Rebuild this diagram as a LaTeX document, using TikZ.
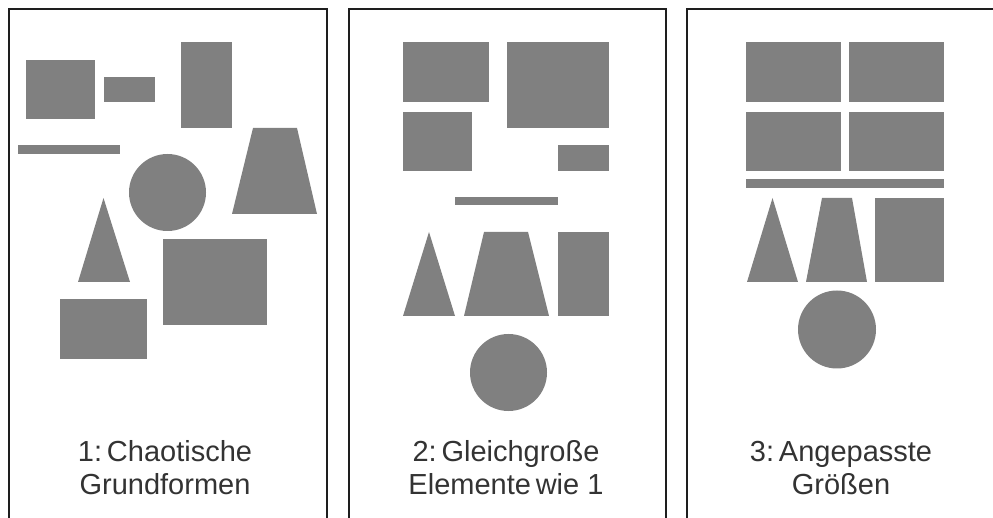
\documentclass[tikz,border=0pt]{standalone}
\usepackage{fontspec}
\setmainfont{Liberation Sans}
\definecolor{shapegray}{HTML}{808080}
\definecolor{framec}{HTML}{1E1E1E}
\definecolor{textc}{HTML}{333333}
\begin{document}
\begin{tikzpicture}[x=1pt,y=-1pt,
  shp/.style={fill=shapegray,draw=none},
  frm/.style={draw=framec,line width=2pt},
  lbl/.style={text=textc,font=\fontsize{29}{33}\selectfont,align=center,inner sep=0pt}]
\useasboundingbox (0,0) rectangle (993,518);
\clip (0,0) rectangle (993,518);
\fill[white] (0,0) rectangle (993,518);
% frames
\draw[frm] (9,530) -- (9,9) -- (327,9) -- (327,530);
\draw[frm] (349,530) -- (349,9) -- (666,9) -- (666,530);
\draw[frm] (687,530) -- (687,9) -- (1000,9);
% panel 1
\fill[shp] (26,60) rectangle (95,119);
\fill[shp] (104,77) rectangle (155,102);
\fill[shp] (181,42) rectangle (232,128);
\fill[shp] (18,145) rectangle (120,154);
\fill[shp] (167.5,192.5) circle (38.5);
\fill[shp] (253,128) -- (297,128) -- (317,214) -- (232,214) -- cycle;
\fill[shp] (103.5,198) -- (130,282) -- (78,282) -- cycle;
\fill[shp] (163,239) rectangle (267,325);
\fill[shp] (60,299) rectangle (147,359);
\node[lbl] (t1) at (165,468) {1:\,Chaotische\\Grundformen};
% panel 2
\fill[shp] (403,42) rectangle (489,102);
\fill[shp] (507,42) rectangle (609,128);
\fill[shp] (403,112) rectangle (472,171);
\fill[shp] (558,145) rectangle (609,171);
\fill[shp] (455,197) rectangle (558,205);
\fill[shp] (429,232) -- (455,316) -- (403,316) -- cycle;
\fill[shp] (484,232) -- (528,232) -- (549,316) -- (464,316) -- cycle;
\fill[shp] (558,232) rectangle (609,316);
\fill[shp] (508.5,372.5) circle (38.5);
\node[lbl] (t2) at (506,468) {2:\,Gleichgroße\\Elemente\,wie 1};
% panel 3
\fill[shp] (746,42) rectangle (841,102);
\fill[shp] (849,42) rectangle (944,102);
\fill[shp] (746,112) rectangle (841,171);
\fill[shp] (849,112) rectangle (944,171);
\fill[shp] (746,179) rectangle (944,188);
\fill[shp] (772.5,198) -- (798,282) -- (747,282) -- cycle;
\fill[shp] (822,198) -- (852,198) -- (867,282) -- (806,282) -- cycle;
\fill[shp] (875,198) rectangle (944,282);
\fill[shp] (837,329.5) circle (39);
\node[lbl] (t3) at (841,468) {3:\,Angepasste\\Größen};
\end{tikzpicture}
\end{document}
